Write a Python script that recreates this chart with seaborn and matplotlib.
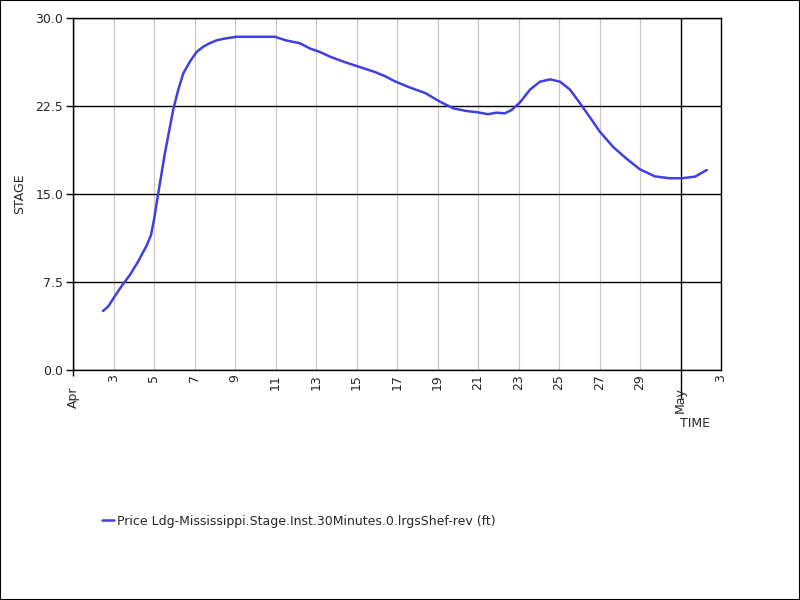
import numpy as np
import pandas as pd
import matplotlib
matplotlib.use('Agg')
import matplotlib.pyplot as plt
import matplotlib.dates as mdates
import seaborn as sns

# day of April (Apr 1 = 1, May 1 = 31) and stage in ft
days = [2.48, 2.73, 3.07, 3.42, 3.81, 4.2, 4.65, 4.85, 5.0, 5.21,
        5.54, 5.95, 6.2, 6.45, 6.78, 7.1, 7.43, 7.75, 8.1, 8.5,
        9.08, 10.0, 10.97, 11.5, 12.2, 12.7, 13.2, 13.7, 14.4, 15.2,
        15.9, 16.4, 16.9, 17.6, 18.4, 19.12, 19.78, 20.44, 21.0, 21.5,
        21.9, 22.33, 22.66, 23.07, 23.57, 24.06, 24.56, 25.05, 25.54, 26.04,
        26.5, 27.02, 27.68, 28.34, 29.0, 29.74, 30.48, 31.06, 31.72, 32.3]
stage = [5.03, 5.4, 6.3, 7.2, 8.1, 9.2, 10.65, 11.5, 12.8, 15.06,
         18.5, 22.2, 23.9, 25.3, 26.3, 27.1, 27.55, 27.85, 28.1, 28.25,
         28.4, 28.4, 28.4, 28.1, 27.85, 27.4, 27.1, 26.7, 26.25, 25.8,
         25.4, 25.05, 24.6, 24.1, 23.6, 22.87, 22.3, 22.07, 21.96, 21.8,
         21.93, 21.88, 22.16, 22.8, 23.9, 24.57, 24.77, 24.57, 23.9, 22.73,
         21.6, 20.3, 19.0, 18.0, 17.1, 16.5, 16.34, 16.34, 16.48, 17.05]
y_ticks = [0, 7.5, 15, 22.5, 30]
series_name = 'Price Ldg-Mississippi.Stage.Inst.30Minutes.0.lrgsShef-rev (ft)'

start = pd.Timestamp('2024-04-01')
df = pd.DataFrame({
    'time': [start + pd.Timedelta(days=d - 1) for d in days],
    'stage': stage,
})

sns.set_style('white')
plt.rcParams['font.family'] = ['DejaVu Sans']

fig = plt.figure(figsize=(8, 6), dpi=100)
ax = fig.add_axes([73 / 800, 1 - 370 / 600, (721 - 73) / 800, (370 - 18) / 600])

sns.lineplot(data=df, x='time', y='stage', ax=ax, color='#4040e0', lw=1.8,
             label=series_name)
ax.get_legend().remove()

ax.set_xlim(start, pd.Timestamp('2024-05-03'))
ax.set_ylim(0, 30)
ax.set_yticks(y_ticks)
ax.yaxis.set_major_formatter(plt.FormatStrFormatter('%.1f'))

ax.xaxis.set_major_locator(mdates.DayLocator(bymonthday=list(range(3, 31, 2))))
ax.xaxis.set_major_formatter(mdates.DateFormatter('%-d'))
ax.xaxis.set_minor_locator(mdates.MonthLocator())
ax.xaxis.set_minor_formatter(mdates.DateFormatter('%b'))

ax.tick_params(axis='x', which='major', bottom=True, length=0, pad=3,
               labelsize=9, labelrotation=90)
ax.tick_params(axis='x', which='minor', bottom=True, length=11, width=1,
               color='black', pad=1, labelsize=9, labelrotation=90)
ax.tick_params(axis='y', length=5, width=1, color='black', left=True,
               labelsize=9, pad=2)

for lab in ax.get_xticklabels(which='both'):
    lab.set_va('top')
    lab.set_ha('center')

ax.grid(False)
ax.grid(True, axis='x', which='major', color='#c8c8c8', lw=0.9)
ax.grid(True, axis='x', which='minor', color='black', lw=1)
ax.grid(True, axis='y', which='major', color='black', lw=1)
ax.set_axisbelow(True)

for s in ax.spines.values():
    s.set_color('black')
    s.set_linewidth(1)

ax.set_xlabel('TIME', fontsize=9)
ax.xaxis.set_label_coords((695 - 73) / (721 - 73), -(417 - 370) / 352)
ax.set_ylabel('STAGE', fontsize=9)
ax.yaxis.set_label_coords(-(73 - 26) / 648, 0.5)

# short tick for the April boundary, long one for May
fig.canvas.draw()
minor = ax.xaxis.get_minor_ticks()
if len(minor) >= 2:
    minor[0].tick1line.set_markersize(4)
    minor[1].tick1line.set_markersize(20)

handle = plt.Line2D([], [], color='#4040e0', lw=1.8)
fig.legend([handle], [series_name], loc='center left',
           bbox_to_anchor=(91 / 800, 1 - 521 / 600), frameon=False,
           fontsize=9, handlelength=0.9, handletextpad=0.3)

fig.patches.append(plt.Rectangle((0, 0), 1, 1, transform=fig.transFigure,
                                 fill=False, edgecolor='black', lw=1.5))

fig.savefig('out.png', dpi=100)
